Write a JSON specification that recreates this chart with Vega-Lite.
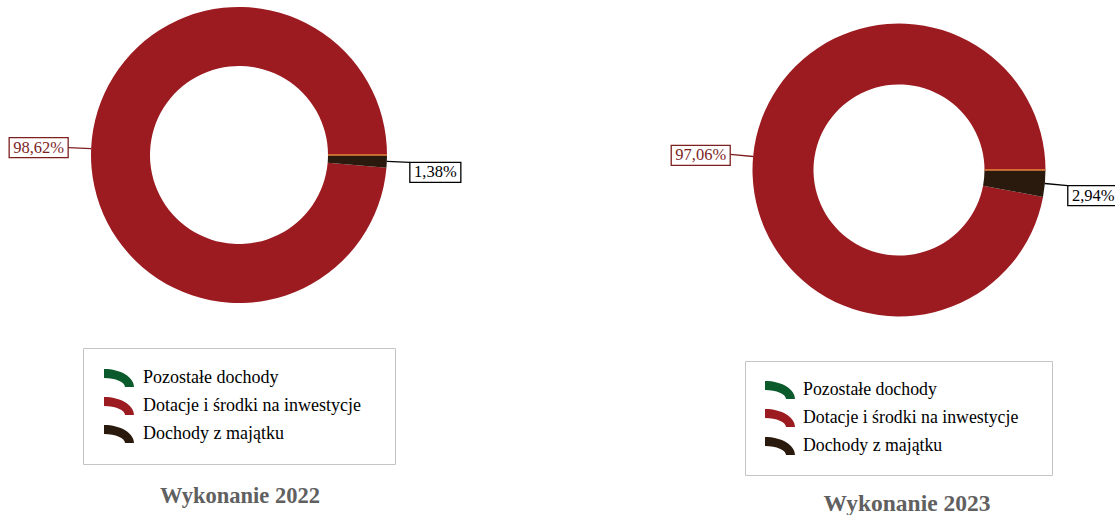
{
  "$schema": "https://vega.github.io/schema/vega-lite/v6.json",
  "padding": 0,
  "background": "white",
  "datasets": {
    "d": [
      {"year": "2022", "cat": "Pozostałe dochody", "value": 0},
      {"year": "2022", "cat": "Dotacje i środki na inwestycje", "value": 98.62},
      {"year": "2022", "cat": "Dochody z majątku", "value": 1.38},
      {"year": "2023", "cat": "Pozostałe dochody", "value": 0},
      {"year": "2023", "cat": "Dotacje i środki na inwestycje", "value": 97.06},
      {"year": "2023", "cat": "Dochody z majątku", "value": 2.94}
    ]
  },
  "data": {"name": "d"},
  "spacing": 205,
  "bounds": "flush",
  "resolve": {"scale": {"color": "independent", "theta": "independent", "x": "independent", "y": "independent"}, "legend": {"color": "independent"}},
  "config": {"view": {"stroke": null}},
  "hconcat": [
    {
      "width": 478,
      "height": 310,
      "title": {"text": "Wykonanie 2022", "orient": "bottom", "anchor": "middle", "frame": "group", "offset": 20, "dx": 1, "font": "Liberation Serif", "fontSize": 22.5, "fontWeight": "bold", "color": "#606060"},
      "transform": [{"filter": "datum.year == '2022'"}],
      "layer": [
        {
          "mark": {"type": "arc", "innerRadius": 89, "outerRadius": 148},
          "encoding": {
            "theta": {"field": "value", "type": "quantitative", "stack": true, "scale": {"range": [1.5708, 7.854]}},
            "order": {"field": "cat", "sort": "ascending"},
            "color": {
              "field": "cat", "type": "nominal",
              "scale": {"domain": ["Pozostałe dochody", "Dotacje i środki na inwestycje", "Dochody z majątku"], "range": ["#0b5a2b", "#9c1b20", "#2a1a0e"]},
              "legend": {"title": null, "orient": "none", "direction": "vertical", "legendX": 83, "legendY": 348, "padding": 21, "labelOffset": 21, "rowPadding": 10, "symbolSize": 324, "symbolType": "M-1,-1 A3.333,2 0 0 1 2.333,1 L1.333,1 A2.333,1 0 0 0 -1,0 Z", "symbolStrokeWidth": 0, "symbolOpacity": 1, "labelFont": "Liberation Serif", "labelFontSize": 18, "labelColor": "#000", "labelLimit": 500, "labelExpr": "datum.label + '\u2800'", "strokeColor": "#c4c4c4", "fillColor": "#ffffff"}
            }
          }
        },
        {
          "transform": [{"filter": "datum.cat == 'Pozostałe dochody'"}],
          "mark": {"type": "arc", "innerRadius": 89, "outerRadius": 148, "filled": false, "stroke": "#e3873e", "strokeWidth": 1.5},
          "encoding": {"theta": {"field": "value", "type": "quantitative", "stack": true}}
        },
        {
          "transform": [
            {"joinaggregate": [{"op": "sum", "field": "value", "as": "tot"}]},
            {"window": [{"op": "sum", "field": "value", "as": "cum"}], "sort": [{"field": "cat", "order": "ascending"}], "frame": [null, 0]},
            {"calculate": "PI/2 + 2*PI*(datum.cum - datum.value/2)/datum.tot", "as": "ang"},
            {"calculate": "148*sin(datum.ang)", "as": "ex"},
            {"calculate": "148*cos(datum.ang)", "as": "ey"},
            {"calculate": "171*sin(datum.ang)", "as": "lx"},
            {"calculate": "171*cos(datum.ang)", "as": "ly"},
            {"calculate": "replace(format(datum.value, '.2f'), '.', ',') + '%'", "as": "lbl"},
            {"filter": "datum.value > 0"}
          ],
          "layer": [
            {
              "transform": [{"filter": "datum.lx < 0"}],
              "layer": [
                {
                  "mark": {"type": "rule", "color": "#7d1f1f", "strokeWidth": 1.3},
                  "encoding": {
                    "x": {"field": "ex", "type": "quantitative", "scale": {"domain": [-239, 239], "nice": false, "zero": false}, "axis": null},
                    "y": {"field": "ey", "type": "quantitative", "scale": {"domain": [-155, 155], "nice": false, "zero": false}, "axis": null},
                    "x2": {"field": "lx"},
                    "y2": {"field": "ly"}
                  }
                },
                {
                  "mark": {"type": "point", "shape": "M-1,-0.339 L1,-0.339 L1,0.339 L-1,0.339 Z", "size": 3481, "filled": true, "fill": "#ffffff", "fillOpacity": 1, "opacity": 1, "stroke": "#7d1f1f", "strokeWidth": 1.3, "xOffset": -29.5},
                  "encoding": {
                    "x": {"field": "lx", "type": "quantitative", "scale": {"domain": [-239, 239], "nice": false, "zero": false}, "axis": null},
                    "y": {"field": "ly", "type": "quantitative", "scale": {"domain": [-155, 155], "nice": false, "zero": false}, "axis": null}
                  }
                },
                {
                  "mark": {"type": "text", "font": "Liberation Serif", "fontSize": 16.5, "color": "#7d1f1f", "align": "center", "baseline": "middle", "xOffset": -29.5},
                  "encoding": {
                    "x": {"field": "lx", "type": "quantitative", "scale": {"domain": [-239, 239], "nice": false, "zero": false}, "axis": null},
                    "y": {"field": "ly", "type": "quantitative", "scale": {"domain": [-155, 155], "nice": false, "zero": false}, "axis": null},
                    "text": {"field": "lbl"}
                  }
                }
              ]
            },
            {
              "transform": [{"filter": "datum.lx >= 0"}],
              "layer": [
                {
                  "mark": {"type": "rule", "color": "#000000", "strokeWidth": 1.3},
                  "encoding": {
                    "x": {"field": "ex", "type": "quantitative", "scale": {"domain": [-239, 239], "nice": false, "zero": false}, "axis": null},
                    "y": {"field": "ey", "type": "quantitative", "scale": {"domain": [-155, 155], "nice": false, "zero": false}, "axis": null},
                    "x2": {"field": "lx"},
                    "y2": {"field": "ly"}
                  }
                },
                {
                  "mark": {"type": "point", "shape": "M-1,-0.392 L1,-0.392 L1,0.392 L-1,0.392 Z", "size": 2601, "filled": true, "fill": "#ffffff", "fillOpacity": 1, "opacity": 1, "stroke": "#000000", "strokeWidth": 1.3, "xOffset": 25.5, "yOffset": 10},
                  "encoding": {
                    "x": {"field": "lx", "type": "quantitative", "scale": {"domain": [-239, 239], "nice": false, "zero": false}, "axis": null},
                    "y": {"field": "ly", "type": "quantitative", "scale": {"domain": [-155, 155], "nice": false, "zero": false}, "axis": null}
                  }
                },
                {
                  "mark": {"type": "text", "font": "Liberation Serif", "fontSize": 16.5, "color": "#000000", "align": "center", "baseline": "middle", "xOffset": 25.5, "yOffset": 10},
                  "encoding": {
                    "x": {"field": "lx", "type": "quantitative", "scale": {"domain": [-239, 239], "nice": false, "zero": false}, "axis": null},
                    "y": {"field": "ly", "type": "quantitative", "scale": {"domain": [-155, 155], "nice": false, "zero": false}, "axis": null},
                    "text": {"field": "lbl"}
                  }
                }
              ]
            }
          ]
        }
      ]
    },
    {
      "width": 432,
      "height": 340,
      "title": {"text": "Wykonanie 2023", "orient": "bottom", "anchor": "middle", "frame": "group", "offset": 16, "dx": 8, "font": "Liberation Serif", "fontSize": 23.5, "fontWeight": "bold", "color": "#606060"},
      "transform": [{"filter": "datum.year == '2023'"}],
      "layer": [
        {
          "mark": {"type": "arc", "innerRadius": 85.5, "outerRadius": 146.5},
          "encoding": {
            "theta": {"field": "value", "type": "quantitative", "stack": true, "scale": {"range": [1.5708, 7.854]}},
            "order": {"field": "cat", "sort": "ascending"},
            "color": {
              "field": "cat", "type": "nominal",
              "scale": {"domain": ["Pozostałe dochody", "Dotacje i środki na inwestycje", "Dochody z majątku"], "range": ["#0b5a2b", "#9c1b20", "#2a1a0e"]},
              "legend": {"title": null, "orient": "none", "direction": "vertical", "legendX": 62, "legendY": 361, "padding": 20, "labelOffset": 20, "rowPadding": 10, "symbolSize": 324, "symbolType": "M-1,-1 A3.333,2 0 0 1 2.333,1 L1.333,1 A2.333,1 0 0 0 -1,0 Z", "symbolStrokeWidth": 0, "symbolOpacity": 1, "labelFont": "Liberation Serif", "labelFontSize": 17.8, "labelColor": "#000", "labelLimit": 500, "labelExpr": "datum.label + '\u2800'", "strokeColor": "#c4c4c4", "fillColor": "#ffffff"}
            }
          }
        },
        {
          "transform": [{"filter": "datum.cat == 'Pozostałe dochody'"}],
          "mark": {"type": "arc", "innerRadius": 85.5, "outerRadius": 146.5, "filled": false, "stroke": "#e3873e", "strokeWidth": 1.5},
          "encoding": {"theta": {"field": "value", "type": "quantitative", "stack": true}}
        },
        {
          "transform": [
            {"joinaggregate": [{"op": "sum", "field": "value", "as": "tot"}]},
            {"window": [{"op": "sum", "field": "value", "as": "cum"}], "sort": [{"field": "cat", "order": "ascending"}], "frame": [null, 0]},
            {"calculate": "PI/2 + 2*PI*(datum.cum - datum.value/2)/datum.tot", "as": "ang"},
            {"calculate": "146.5*sin(datum.ang)", "as": "ex"},
            {"calculate": "146.5*cos(datum.ang)", "as": "ey"},
            {"calculate": "169.5*sin(datum.ang)", "as": "lx"},
            {"calculate": "169.5*cos(datum.ang)", "as": "ly"},
            {"calculate": "replace(format(datum.value, '.2f'), '.', ',') + '%'", "as": "lbl"},
            {"filter": "datum.value > 0"}
          ],
          "layer": [
            {
              "transform": [{"filter": "datum.lx < 0"}],
              "layer": [
                {
                  "mark": {"type": "rule", "color": "#7d1f1f", "strokeWidth": 1.3},
                  "encoding": {
                    "x": {"field": "ex", "type": "quantitative", "scale": {"domain": [-216, 216], "nice": false, "zero": false}, "axis": null},
                    "y": {"field": "ey", "type": "quantitative", "scale": {"domain": [-170, 170], "nice": false, "zero": false}, "axis": null},
                    "x2": {"field": "lx"},
                    "y2": {"field": "ly"}
                  }
                },
                {
                  "mark": {"type": "point", "shape": "M-1,-0.339 L1,-0.339 L1,0.339 L-1,0.339 Z", "size": 3481, "filled": true, "fill": "#ffffff", "fillOpacity": 1, "opacity": 1, "stroke": "#7d1f1f", "strokeWidth": 1.3, "xOffset": -29.5, "yOffset": 1},
                  "encoding": {
                    "x": {"field": "lx", "type": "quantitative", "scale": {"domain": [-216, 216], "nice": false, "zero": false}, "axis": null},
                    "y": {"field": "ly", "type": "quantitative", "scale": {"domain": [-170, 170], "nice": false, "zero": false}, "axis": null}
                  }
                },
                {
                  "mark": {"type": "text", "font": "Liberation Serif", "fontSize": 16.5, "color": "#7d1f1f", "align": "center", "baseline": "middle", "xOffset": -29.5, "yOffset": 1},
                  "encoding": {
                    "x": {"field": "lx", "type": "quantitative", "scale": {"domain": [-216, 216], "nice": false, "zero": false}, "axis": null},
                    "y": {"field": "ly", "type": "quantitative", "scale": {"domain": [-170, 170], "nice": false, "zero": false}, "axis": null},
                    "text": {"field": "lbl"}
                  }
                }
              ]
            },
            {
              "transform": [{"filter": "datum.lx >= 0"}],
              "layer": [
                {
                  "mark": {"type": "rule", "color": "#000000", "strokeWidth": 1.3, "clip": true},
                  "encoding": {
                    "x": {"field": "ex", "type": "quantitative", "scale": {"domain": [-216, 216], "nice": false, "zero": false}, "axis": null},
                    "y": {"field": "ey", "type": "quantitative", "scale": {"domain": [-170, 170], "nice": false, "zero": false}, "axis": null},
                    "x2": {"field": "lx"},
                    "y2": {"field": "ly"}
                  }
                },
                {
                  "mark": {"type": "point", "shape": "M-1,-0.392 L1,-0.392 L1,0.392 L-1,0.392 Z", "size": 2601, "filled": true, "fill": "#ffffff", "fillOpacity": 1, "opacity": 1, "stroke": "#000000", "strokeWidth": 1.3, "xOffset": 25.5, "yOffset": 10, "clip": true},
                  "encoding": {
                    "x": {"field": "lx", "type": "quantitative", "scale": {"domain": [-216, 216], "nice": false, "zero": false}, "axis": null},
                    "y": {"field": "ly", "type": "quantitative", "scale": {"domain": [-170, 170], "nice": false, "zero": false}, "axis": null}
                  }
                },
                {
                  "mark": {"type": "text", "font": "Liberation Serif", "fontSize": 16.5, "color": "#000000", "align": "center", "baseline": "middle", "xOffset": 25.5, "yOffset": 10, "clip": true},
                  "encoding": {
                    "x": {"field": "lx", "type": "quantitative", "scale": {"domain": [-216, 216], "nice": false, "zero": false}, "axis": null},
                    "y": {"field": "ly", "type": "quantitative", "scale": {"domain": [-170, 170], "nice": false, "zero": false}, "axis": null},
                    "text": {"field": "lbl"}
                  }
                }
              ]
            }
          ]
        }
      ]
    }
  ]
}
